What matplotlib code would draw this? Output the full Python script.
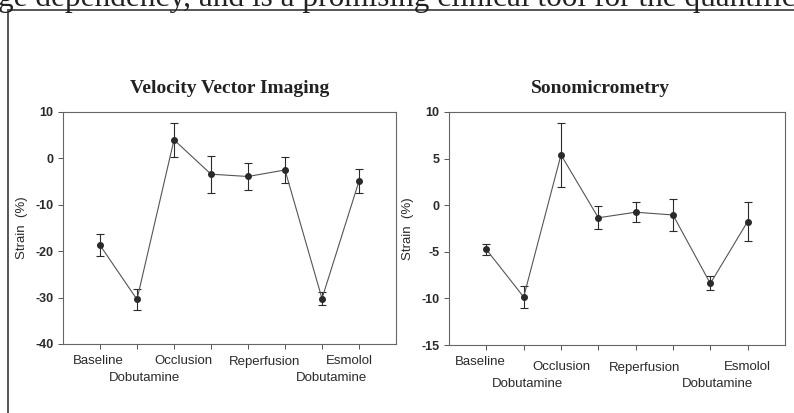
import matplotlib
matplotlib.use('Agg')
import matplotlib.pyplot as plt
from matplotlib.patches import Rectangle
from matplotlib.transforms import blended_transform_factory

# stages (x positions 1..8)
stages = [1, 2, 3, 4, 5, 6, 7, 8]

# Velocity Vector Imaging strain (%) and error
vvi_mean = [-18.7, -30.4, 4.0, -3.4, -3.9, -2.5, -30.2, -4.9]
vvi_err = [2.3, 2.2, 3.6, 4.0, 3.0, 2.7, 1.4, 2.6]

# Sonomicrometry strain (%) and error
sono_mean = [-4.75, -9.85, 5.4, -1.35, -0.75, -1.05, -8.4, -1.75]
sono_err = [0.6, 1.15, 3.45, 1.25, 1.1, 1.7, 0.75, 2.05]

# stage names written under the axes
stage_names = ['Baseline', 'Dobutamine', 'Occlusion', 'Reperfusion', 'Dobutamine', 'Esmolol']

INK = '#2a2a2a'

fig = plt.figure(figsize=(7.94, 4.13), dpi=100)

# caption text from the page, cut off at the top
fig.text(-0.003, 1 - 6 / 413, 'ge dependency, and is a promising clinical tool for the quantific',
         family='Liberation Serif', fontsize=22.5, color='#222222', va='baseline', ha='left')

# frame around the figure
fig.patches.append(Rectangle((7.5 / 794, -0.1), 1.2, 1 - 9.5 / 413 + 0.1, transform=fig.transFigure,
                             fill=False, edgecolor='#555555', linewidth=1.4))


def panel(rect, means, errs, title, yticks, name_x, name_y):
    ax = fig.add_axes(rect)
    ax.errorbar(stages, means, yerr=errs, color='#555555', linewidth=0.8,
                marker='o', markersize=4, markerfacecolor=INK, markeredgecolor=INK,
                ecolor=INK, elinewidth=0.8, capsize=3, capthick=0.8)
    ax.set_xlim(0, 9)
    ax.set_ylim(yticks[0], yticks[-1])
    ax.set_yticks(yticks)
    ax.set_yticklabels([str(t) for t in yticks], family='Liberation Sans', fontweight='bold',
                       fontsize=9, color=INK)
    ax.set_xticks(stages)
    ax.set_xticklabels([])
    ax.tick_params(direction='out', length=3.5, width=0.7, color='#555555')
    for s in ax.spines.values():
        s.set_color('#666666')
        s.set_linewidth(0.8)
    ax.set_ylabel('Strain  (%)', family='Liberation Sans', fontsize=9.5, color=INK)
    ax.set_title(title, family='Liberation Serif', fontweight='bold', fontsize=14,
                 color='#222222', pad=14)
    tr = blended_transform_factory(ax.transData, ax.transAxes)
    for name, x, y in zip(stage_names, name_x, name_y):
        ax.text(x, y, name, transform=tr, ha='center', va='center',
                family='Liberation Sans', fontsize=9.5, color=INK)
    return ax


ax1 = panel([63 / 794, 69 / 413, 333 / 794, 232 / 413], vvi_mean, vvi_err,
            'Velocity Vector Imaging', [-40, -30, -20, -10, 0, 10],
            [0.95, 2.2, 3.25, 5.45, 7.27, 7.75],
            [-0.075, -0.145, -0.075, -0.078, -0.145, -0.075])
ax1.yaxis.set_label_coords(-0.105, 0.5)

ax2 = panel([449 / 794, 68 / 413, 336 / 794, 233 / 413], sono_mean, sono_err,
            'Sonomicrometry', [-15, -10, -5, 0, 5, 10],
            [0.83, 2.09, 3.0, 5.25, 7.18, 8.0],
            [-0.075, -0.168, -0.095, -0.098, -0.168, -0.095])
ax2.yaxis.set_label_coords(-0.105, 0.5)
ax2.title.set_position((0.45, 1.0))

fig.savefig('out.png', dpi=100)
